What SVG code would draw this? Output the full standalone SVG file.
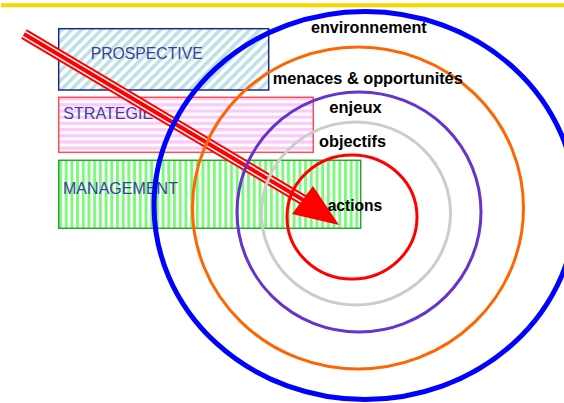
<svg xmlns="http://www.w3.org/2000/svg" width="564" height="403" viewBox="0 0 564 403">
<defs>
<pattern id="diag" width="7" height="7" patternUnits="userSpaceOnUse" patternTransform="rotate(45)">
<rect width="7" height="7" fill="#fff"/><rect width="3.5" height="7" fill="#BCE0E4"/>
</pattern>
<pattern id="horiz" width="10" height="6.2" patternUnits="userSpaceOnUse" y="97">
<rect width="10" height="6.2" fill="#fff"/><rect y="0" width="10" height="3.2" fill="#FDC9FB"/>
</pattern>
<pattern id="vert" width="5.7" height="10" patternUnits="userSpaceOnUse" x="59">
<rect width="5.7" height="10" fill="#fff"/><rect width="3" height="10" fill="#80F880"/>
</pattern>
<style>
.box{stroke-width:1.5}
.boxtxt{font-family:"Liberation Sans",Arial,sans-serif;font-size:17px;fill:#3C3F9E}
.ring{fill:none}
.lbl{font-family:"Liberation Sans",Arial,sans-serif;font-size:16px;font-weight:bold;fill:#000}
</style>
</defs>
<rect width="564" height="403" fill="#fff"/>
<line x1="1" y1="5.3" x2="564" y2="5.3" stroke="#F5D800" stroke-width="4"/>

<g id="prospective">
<rect class="box" x="58.7" y="28.7" width="210" height="61.3" fill="url(#diag)" stroke="#1F2A80"/>
<text class="boxtxt" x="90.7" y="59" textLength="112" lengthAdjust="spacingAndGlyphs">PROSPECTIVE</text>
</g>
<g id="strategie">
<rect class="box" x="58.7" y="97.3" width="254.6" height="55" fill="url(#horiz)" stroke="#FF4D4D"/>
<text class="boxtxt" x="63.3" y="119" textLength="90" lengthAdjust="spacingAndGlyphs">STRATEGIE</text>
</g>
<g id="management">
<rect class="box" x="58.7" y="160.3" width="302" height="68" fill="url(#vert)" stroke="#33A033"/>
<text class="boxtxt" x="63" y="194.3" textLength="115" lengthAdjust="spacingAndGlyphs">MANAGEMENT</text>
</g>

<g id="connectors">
<g id="arrow">
<line x1="24" y1="34" x2="305" y2="201" stroke="#FF0000" stroke-width="11"/>
<line x1="22.6" y1="36.3" x2="303.6" y2="203.3" stroke="#fff" stroke-width="1.5"/>
<line x1="25.4" y1="31.7" x2="306.4" y2="198.7" stroke="#fff" stroke-width="1.5"/>
<polygon points="313,186 292,214 339,225" fill="#FF0000"/>
</g>
</g>

<g id="environnement">
<ellipse class="ring" cx="365" cy="205.5" rx="211" ry="194" stroke="#0000FF" stroke-width="5"/>
<text class="lbl" x="311" y="33" textLength="115.7" lengthAdjust="spacingAndGlyphs">environnement</text>
</g>
<g id="menaces">
<ellipse class="ring" cx="358" cy="208" rx="165.5" ry="161" stroke="#FF6600" stroke-width="3"/>
<text class="lbl" x="272.7" y="84" textLength="190" lengthAdjust="spacingAndGlyphs">menaces &amp; opportunités</text>
</g>
<g id="enjeux">
<ellipse class="ring" cx="359" cy="212" rx="122" ry="120" stroke="#6633CC" stroke-width="3"/>
<text class="lbl" x="329.3" y="112.7" textLength="52.4" lengthAdjust="spacingAndGlyphs">enjeux</text>
</g>
<g id="objectifs">
<ellipse class="ring" cx="356" cy="213.5" rx="94.5" ry="91.5" stroke="#CCCCCC" stroke-width="3"/>
<text class="lbl" x="319" y="147.3" textLength="67" lengthAdjust="spacingAndGlyphs">objectifs</text>
</g>
<g id="actions">
<ellipse class="ring" cx="352" cy="217" rx="65" ry="62" stroke="#FF0000" stroke-width="3"/>
<text class="lbl" x="327.7" y="210.7" textLength="54.6" lengthAdjust="spacingAndGlyphs">actions</text>
</g>
</svg>
